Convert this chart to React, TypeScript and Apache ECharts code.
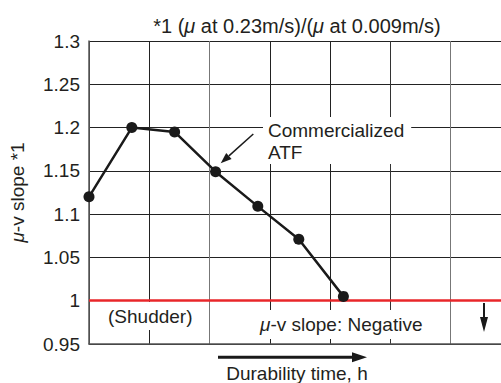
import React, { useEffect, useRef } from "react";
import * as echarts from "echarts";

// Durability (relative units, one gridline per unit) vs mu-v slope
const durability = [0, 0.71, 1.42, 2.1, 2.8, 3.48, 4.22];
const muVSlope = [1.12, 1.2, 1.195, 1.149, 1.109, 1.071, 1.005];
const yTicks = { min: 0.95, max: 1.3, step: 0.05 };
const xRange = { min: 0, max: 7, step: 1 };
const shudderLimit = 1.0;

const FONT = "'Liberation Sans', Arial, Helvetica, sans-serif";
const TXT = "#231f20";

export default function App() {
  const ref = useRef<HTMLDivElement>(null);
  useEffect(() => {
    if (!ref.current) return;
    const chart = echarts.init(ref.current, null, { renderer: "svg" });
    const muRich = (size: number) => ({
      mu: { fontStyle: "italic", fontFamily: FONT, fontSize: size, color: TXT },
    });
    chart.setOption({
      animation: false,
      textStyle: { fontFamily: FONT, color: TXT },
      grid: { left: 89, top: 41, bottom: 39, right: -10, containLabel: false, outerBoundsMode: "none" },
      xAxis: {
        type: "value",
        min: xRange.min,
        max: xRange.max,
        interval: xRange.step,
        axisLabel: { show: false },
        axisTick: { show: false },
        axisLine: { show: true, lineStyle: { color: "#555", width: 1.5 } },
        splitLine: {
          show: true,
          lineStyle: { color: ["#444", "#222", "#777", "#222", "#222", "#333", "#777", "#222"], width: 1 },
        },
      },
      yAxis: {
        type: "value",
        min: yTicks.min,
        max: yTicks.max,
        interval: yTicks.step,
        name: "{mu|μ}-v slope *1",
        nameLocation: "middle",
        nameRotate: 90,
        nameGap: 62,
        nameTextStyle: { fontSize: 19, color: TXT, fontFamily: FONT, rich: muRich(19) },
        axisLabel: {
          fontSize: 19,
          color: TXT,
          margin: 9,
          formatter: (v: number) => String(Math.round(v * 100) / 100),
        },
        axisTick: { show: false },
        axisLine: { show: true, lineStyle: { color: "#555", width: 1.5 } },
        splitLine: { show: true, lineStyle: { color: "#222", width: 1 } },
      },
      series: [
        {
          type: "line",
          data: durability.map((x, i) => [x, muVSlope[i]]),
          symbol: "circle",
          symbolSize: 11,
          itemStyle: { color: "#1a1a1a" },
          lineStyle: { color: "#1a1a1a", width: 2.5 },
          z: 5,
          markLine: {
            silent: true,
            symbol: "none",
            label: { show: false },
            lineStyle: { color: "#e8262a", width: 2.5, type: "solid" },
            data: [{ yAxis: shudderLimit }],
            z: 4,
          },
        },
      ],
      graphic: [
        {
          type: "text",
          x: 297,
          y: 26,
          style: {
            text: "*1 ({mu|μ} at 0.23m/s)/({mu|μ} at 0.009m/s)",
            fontSize: 20,
            fontFamily: FONT,
            fill: TXT,
            align: "center",
            verticalAlign: "middle",
            rich: muRich(20),
          },
        },
        {
          type: "text",
          x: 263,
          y: 117,
          z: 10,
          style: {
            text: "Commercialized\nATF",
            fontSize: 19,
            lineHeight: 22,
            fontFamily: FONT,
            fill: TXT,
            align: "left",
            verticalAlign: "top",
            backgroundColor: "#fff",
            padding: [2, 7, 1, 5],
          },
        },
        {
          type: "line",
          z: 10,
          shape: { x1: 253.3, y1: 134, x2: 228.9, y2: 155.9 },
          style: { stroke: "#1a1a1a", lineWidth: 1.5 },
        },
        {
          type: "polygon",
          z: 10,
          shape: { points: [[220.7, 163.3], [231.6, 158.9], [226.2, 152.9]] },
          style: { fill: "#1a1a1a" },
        },
        {
          type: "text",
          x: 100,
          y: 302,
          z: 10,
          style: {
            text: "(Shudder)",
            fontSize: 19,
            fontFamily: FONT,
            fill: TXT,
            align: "left",
            verticalAlign: "top",
            backgroundColor: "#fff",
            padding: [5, 6, 4, 8],
          },
        },
        {
          type: "text",
          x: 250,
          y: 310,
          z: 10,
          style: {
            text: "{mu|μ}-v slope: Negative",
            fontSize: 19,
            fontFamily: FONT,
            fill: TXT,
            align: "left",
            verticalAlign: "top",
            backgroundColor: "#fff",
            padding: [5, 5, 5, 10],
            rich: muRich(19),
          },
        },
        {
          type: "line",
          z: 10,
          shape: { x1: 484, y1: 303, x2: 484, y2: 320 },
          style: { stroke: "#1a1a1a", lineWidth: 2 },
        },
        {
          type: "polygon",
          z: 10,
          shape: { points: [[480, 317], [488, 317], [484, 332]] },
          style: { fill: "#1a1a1a" },
        },
        {
          type: "line",
          shape: { x1: 218, y1: 357.3, x2: 354, y2: 357.3 },
          style: { stroke: "#1a1a1a", lineWidth: 3 },
        },
        {
          type: "polygon",
          shape: { points: [[352, 352.3], [367, 357.3], [352, 362.3]] },
          style: { fill: "#1a1a1a" },
        },
        {
          type: "text",
          x: 297,
          y: 373,
          style: {
            text: "Durability time, h",
            fontSize: 19,
            fontFamily: FONT,
            fill: TXT,
            align: "center",
            verticalAlign: "middle",
          },
        },
      ],
    });
    return () => chart.dispose();
  }, []);
  return (
    <div
      ref={ref}
      style={{ position: "fixed", left: 0, top: 0, width: 501, height: 383, background: "#fff" }}
    />
  );
}
